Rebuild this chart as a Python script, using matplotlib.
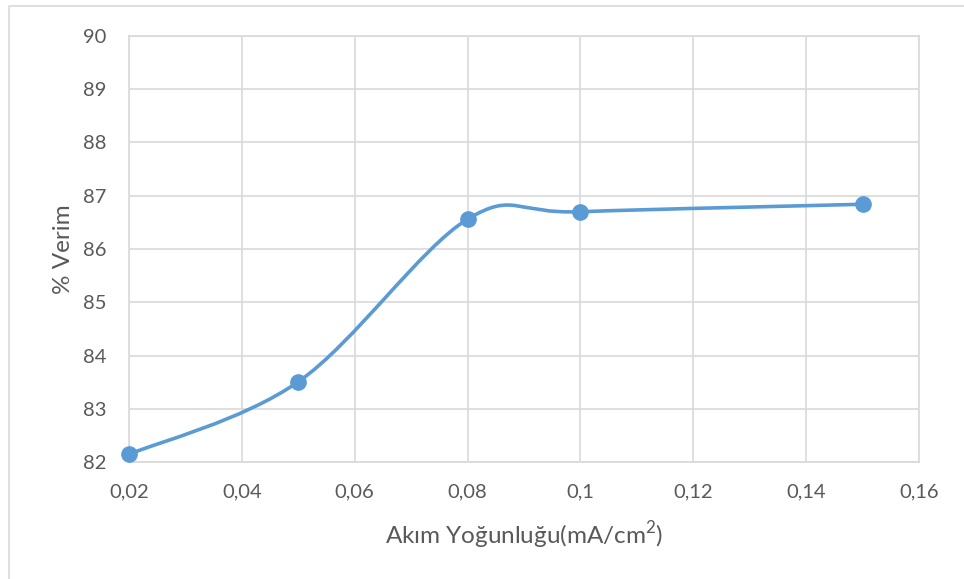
import numpy as np
import matplotlib
matplotlib.use("Agg")
import matplotlib.pyplot as plt
from matplotlib.path import Path
from matplotlib.patches import PathPatch, Rectangle
from matplotlib.ticker import FuncFormatter, MultipleLocator

# current density vs. efficiency, drawn like an Excel scatter with smoothed line

current_density = [0.02, 0.05, 0.08, 0.10, 0.15]
efficiency = [82.15, 83.51, 86.56, 86.70, 86.84]

x_label = "Akım Yoğunluğu(mA/cm$^{\\mathrm{2}}$)"
y_label = "% Verim"

LINE_COLOR = "#5B9BD5"
GRID_COLOR = "#D9D9D9"
TEXT_COLOR = "#595959"

plt.rcParams["font.family"] = ["Lato", "DejaVu Sans"]
plt.rcParams["mathtext.fontset"] = "custom"
plt.rcParams["mathtext.rm"] = "Lato"


def excel_smooth_path(xs, ys):
    # Catmull-Rom style cubic bezier through the points, as Excel does
    pts = np.column_stack([xs, ys])
    n = len(pts)
    verts = [pts[0]]
    codes = [Path.MOVETO]
    for i in range(n - 1):
        p0 = pts[i - 1] if i > 0 else pts[i]
        p1 = pts[i]
        p2 = pts[i + 1]
        p3 = pts[i + 2] if i + 2 < n else pts[i + 1]
        c1 = p1 + (p2 - p0) / 6.0
        c2 = p2 - (p3 - p1) / 6.0
        verts += [c1, c2, p2]
        codes += [Path.CURVE4] * 3
    return Path(verts, codes)


def comma_fmt(v, _pos):
    return f"{v:g}".replace(".", ",")


fig = plt.figure(figsize=(9.64, 5.79), dpi=100)
ax = fig.add_axes([129 / 964, 1 - 462.3 / 579, 790 / 964, 426.5 / 579])

# outer chart frame
fig.patches.append(Rectangle((9 / 964, -0.1), 1.2, 1 - 6 / 579 + 0.1,
                             transform=fig.transFigure, fill=False,
                             edgecolor=GRID_COLOR, linewidth=1.2))

ax.set_xlim(0.02, 0.16)
ax.set_ylim(82, 90)
ax.xaxis.set_major_locator(MultipleLocator(0.02))
ax.yaxis.set_major_locator(MultipleLocator(1))
ax.xaxis.set_major_formatter(FuncFormatter(comma_fmt))

ax.grid(True, color=GRID_COLOR, linewidth=1.2)
ax.set_axisbelow(True)
for sp in ax.spines.values():
    sp.set_color(GRID_COLOR)
    sp.set_linewidth(1.2)

ax.tick_params(axis="both", length=0, labelsize=14.5, colors=TEXT_COLOR)
ax.tick_params(axis="x", pad=15)
ax.tick_params(axis="y", pad=16)

curve = PathPatch(excel_smooth_path(current_density, efficiency),
                  facecolor="none", edgecolor=LINE_COLOR, linewidth=2.6,
                  capstyle="round", joinstyle="round", zorder=3, clip_on=False)
ax.add_patch(curve)
ax.plot(current_density, efficiency, linestyle="none", marker="o",
        markersize=11, color=LINE_COLOR, zorder=4, clip_on=False)

ax.set_xlabel(x_label, fontsize=17.5, color=TEXT_COLOR, labelpad=14)
ax.set_ylabel(y_label, fontsize=17.5, color=TEXT_COLOR, labelpad=7)

fig.savefig("out.png", dpi=100)
